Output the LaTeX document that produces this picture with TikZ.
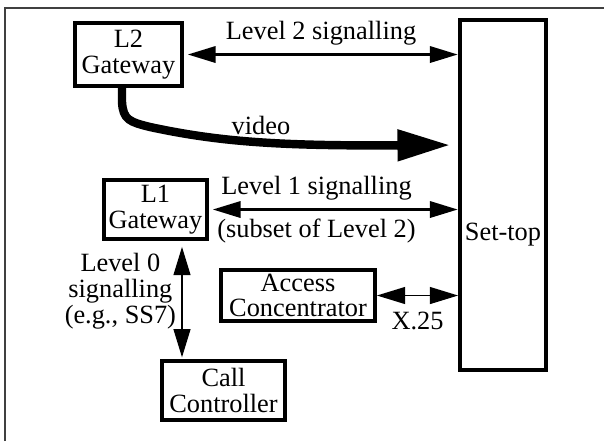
\documentclass[tikz,border=0pt]{standalone}
\usepackage{fontspec}
\setmainfont{Liberation Serif}
\usetikzlibrary{arrows.meta}

\begin{document}
\begin{tikzpicture}[x=0.02cm,y=-0.02cm,
	font=\fontsize{15}{14.7}\selectfont,
	box/.style={draw,line width=2.2pt,align=center,inner sep=0pt},
	sig/.style={line width=2.2pt,{Triangle[length=16pt,width=9pt]}-{Triangle[length=16pt,width=9pt]}},
	thinsig/.style={line width=0.8pt,{Triangle[length=16pt,width=9.6pt]}-{Triangle[length=16pt,width=9.6pt]}},
	vid/.style={line width=4.8pt,-{Triangle[length=30pt,width=17pt]}}]
	\useasboundingbox (0,0) rectangle (604,441);
	% Rahmen
	\draw [line width=0.7pt,black!75] (5,441) -- (5,8) -- (604,8);
	% Kaesten
	\node [box,minimum width=2.14cm,minimum height=1.26cm] (l2gw) at (128.5,54.5) {L2\\Gateway};
	\node [box,minimum width=1.72cm,minimum height=7cm] (settop) at (503,195) {};
	\node (settoptxt) at (503,235) {Set-top};
	\node [box,minimum width=2.06cm,minimum height=1.18cm] (l1gw) at (155.5,209.5) {L1\\Gateway};
	\node [box,minimum width=3.08cm,minimum height=1.02cm] (accconc) at (298,295.5) {Access\\Concentrator};
	\node [box,minimum width=2.46cm,minimum height=1.18cm] (callctl) at (223.5,390.5) {Call\\Controller};
	% Signalisierung
	\draw [sig,shorten <=2pt] (l2gw.east) -- (l2gw.east -| settop.west)
		node[midway,above,inner sep=4pt] {Level 2 signalling};
	\draw [sig,shorten <=2pt] (l1gw.east) -- (l1gw.east -| settop.west)
		node[midway,above,xshift=-0.34cm,inner sep=4pt] (lvlone) {Level 1 signalling}
		node[midway,below,xshift=-0.34cm,inner sep=4pt] (lvlonesub) {(subset of Level 2)};
	\draw [thinsig] (accconc.east) -- (accconc.east -| settop.west)
		node[midway,below=0.2cm] (xtwofive) {X.25};
	\draw [thinsig,shorten <=3.4pt,shorten >=1pt] ([xshift=0.53cm]l1gw.south) -- ([xshift=0.53cm]l1gw.south |- callctl.north)
		node[midway,left,align=center,yshift=0.18cm,inner sep=3pt] (lvlzero) {Level 0\\signalling\\(e.g., SS7)};
	% Video
	\draw [vid,shorten >=4.5pt] ([xshift=-0.13cm]l2gw.south) -- ++(0,14)
		.. controls (123,120) and (130,122) .. (150,127)
		.. controls (220,142) and (280,146) .. ([yshift=1cm]settop.west);
	\node (videolbl) at (261,125) {video};
\end{tikzpicture}
\end{document}
